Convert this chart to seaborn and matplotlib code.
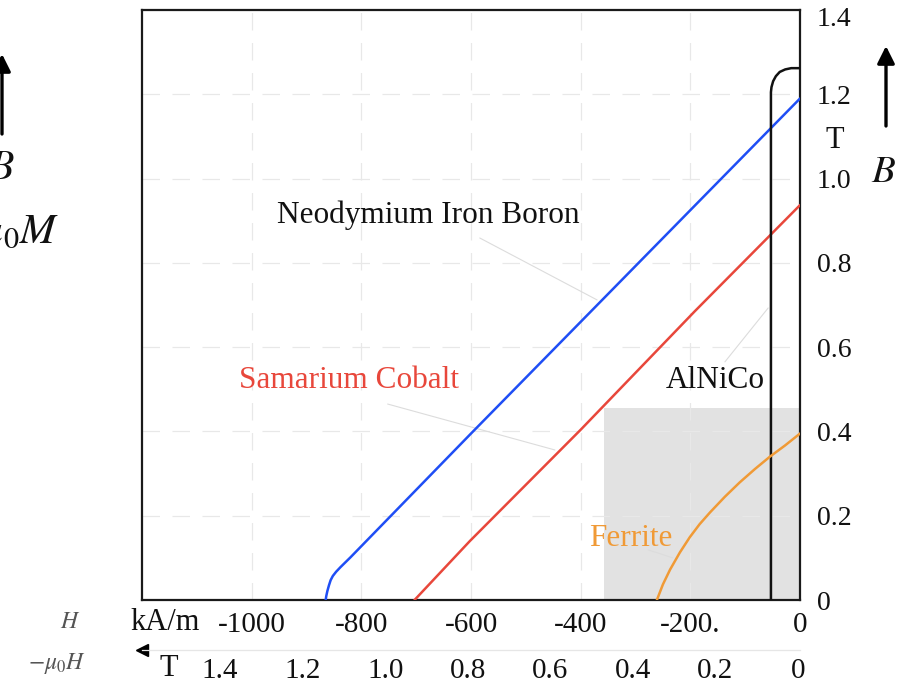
import matplotlib
matplotlib.use("Agg")
import matplotlib.pyplot as plt
import matplotlib.transforms as mtransforms
import pandas as pd
import seaborn as sns
from matplotlib.patches import Rectangle, FancyArrowPatch

# Second-quadrant demagnetisation curves: field strength H (kA/m), flux density B (T)
ndfeb_h = [0, -200, -400, -600, -820, -838, -846, -852, -856, -859, -862, -864, -865]
ndfeb_b = [1.19, 0.925, 0.66, 0.395, 0.101, 0.078, 0.067, 0.057, 0.047, 0.035, 0.021,
           0.009, 0.0]

smco_h = [0, -192, -400, -602, -703]
smco_b = [0.937, 0.685, 0.404, 0.140, 0.0]

alnico_h = [0, -16, -27, -37, -44, -49, -52, -53, -53]
alnico_b = [1.262, 1.262, 1.259, 1.253, 1.243, 1.231, 1.217, 1.205, 0.0]

ferrite_h = [0, -27, -55, -82, -110, -137, -164, -183, -201, -219, -237, -250, -261]
ferrite_b = [0.395, 0.367, 0.340, 0.311, 0.279, 0.245, 0.208, 0.180, 0.149, 0.113,
             0.072, 0.037, 0.0]

magnets = ["Neodymium Iron Boron", "Samarium Cobalt", "AlNiCo", "Ferrite"]
colors = ["#1f4ef5", "#e8473b", "#111111", "#f09a36"]

# shaded working region of ferrite magnets
region_h = -358
region_b = 0.456

h_ticks = [-1000, -800, -600, -400, -200, 0]
h_labels = ["-1000", "-800", "-600", "-400", "-200.", "0"]
b_ticks = [0, 0.2, 0.4, 0.6, 0.8, 1.0, 1.2, 1.4]
b_labels = ["0", "0.2", "0.4", "0.6", "0.8", "1.0", "1.2", "1.4"]
t_ticks = [1.4, 1.2, 1.0, 0.8, 0.6, 0.4, 0.2, 0]
t_labels = ["1.4", "1.2", "1.0", "0.8", "0.6", "0.4", "0.2", "0"]

sns.set_theme(style="white")
plt.rcParams["font.family"] = ["Liberation Serif", "DejaVu Serif"]
plt.rcParams["mathtext.fontset"] = "stix"

W, H = 905, 687
fig = plt.figure(figsize=(W / 100, H / 100), dpi=100)


def fx(x):
    return x / W


def fy(y):
    return 1 - y / H


ax = fig.add_axes([fx(142), fy(600), fx(800) - fx(142), fy(10) - fy(600)])

df = pd.concat([
    pd.DataFrame({"H": h, "B": b, "magnet": m})
    for h, b, m in zip([ndfeb_h, smco_h, alnico_h, ferrite_h],
                       [ndfeb_b, smco_b, alnico_b, ferrite_b], magnets)
], ignore_index=True)

ax.add_patch(Rectangle((region_h, 0), -region_h, region_b,
                       facecolor="#e2e2e2", edgecolor="none", zorder=0.4))

sns.lineplot(data=df, x="H", y="B", hue="magnet", palette=dict(zip(magnets, colors)),
             sort=False, estimator=None, lw=1.8, legend=False, ax=ax, zorder=3,
             solid_joinstyle="round", solid_capstyle="round")

ax.set_xlim(-1200, 0)
ax.set_ylim(0, 1.4)
ax.set_axisbelow(True)
ax.grid(True, color="#e8e8e8", lw=0.9, linestyle=(0, (14, 10)))
ax.set_xticks(h_ticks)
ax.set_xticklabels(h_labels)
ax.set_yticks(b_ticks)
ax.set_yticklabels(b_labels)
ax.yaxis.tick_right()
ax.tick_params(axis="x", length=0, pad=9, labelsize=21, labelcolor="#111111")
ax.tick_params(axis="y", length=0, pad=12, labelsize=20, labelcolor="#111111")
ax.set_xlabel("")
ax.set_ylabel("")
for s in ax.spines.values():
    s.set_visible(True)
    s.set_color("#1a1a1a")
    s.set_linewidth(1.6)

# keep the top value label just inside the frame
top_tick = ax.yaxis.get_major_ticks()[-1]
top_tick.label2.set_transform(top_tick.label2.get_transform()
                              + mtransforms.ScaledTranslation(0, -7 / 100, fig.dpi_scale_trans))

# curve labels with faint leader lines
leader = dict(color="#dcdcdc", lw=0.8)
ax.plot([-584, -370], [0.859, 0.712], **leader, zorder=1)
ax.plot([-752, -447], [0.465, 0.356], **leader, zorder=1)
ax.plot([-137, -58], [0.565, 0.693], **leader, zorder=1)
ax.plot([-277, -232], [0.119, 0.100], **leader, zorder=1)
ax.text(-677, 0.914, "Neodymium Iron Boron", color="#111111", fontsize=22.5,
        ha="center", va="center")
ax.text(-823, 0.522, "Samarium Cobalt", color=colors[1], fontsize=22.5,
        ha="center", va="center")
ax.text(-155, 0.522, "AlNiCo", color="#111111", fontsize=22.5,
        ha="center", va="center")
ax.text(-308, 0.147, "Ferrite", color=colors[3], fontsize=22.5,
        ha="center", va="center")

# secondary scale: -mu0 H in tesla
axt = fig.add_axes([fx(142), fy(650), fx(800) - fx(142), 0.0001])
axt.set_xlim(1.589, -0.005)
axt.set_xticks(t_ticks)
axt.set_xticklabels(t_labels)
axt.set_yticks([])
axt.set_facecolor("none")
for k in ["top", "left", "right"]:
    axt.spines[k].set_visible(False)
axt.spines["bottom"].set_color("#e6e6e6")
axt.spines["bottom"].set_linewidth(0.9)
axt.tick_params(axis="x", direction="inout", length=10, width=0.9, color="#dddddd",
                pad=1, labelsize=21, labelcolor="#111111")
axt.plot([0.0], [0.0], marker="<", color="black", markersize=8,
         transform=axt.transAxes, clip_on=False)

# axis captions and direction arrows
fig.text(fx(165), fy(623), "kA/m", fontsize=22, ha="center", va="center", color="#111111")
fig.text(fx(169), fy(668), "T", fontsize=22, ha="center", va="center", color="#111111")
fig.text(fx(80), fy(623), "$H$", fontsize=17, ha="right", va="center", color="#555555")
fig.text(fx(86), fy(663), r"$-\mu_0 H$", fontsize=17, ha="right", va="center",
         color="#555555")
fig.text(fx(835), fy(141), "T", fontsize=22, ha="center", va="center", color="#111111")
fig.text(fx(884), fy(172), "$B$", fontsize=28, ha="center", va="center", color="#111111")
fig.text(fx(15), fy(169), "$B$", fontsize=30, ha="right", va="center", color="#111111")
fig.text(fx(59), fy(243), r"$\mu_0 M$", fontsize=31, ha="right", va="baseline",
         color="#111111")

arrow = dict(arrowstyle="-|>", lw=2.4, color="black", mutation_scale=26,
             shrinkA=0, shrinkB=0)
fig.add_artist(FancyArrowPatch((fx(886), fy(126)), (fx(886), fy(46)),
                               transform=fig.transFigure, **arrow))
fig.add_artist(FancyArrowPatch((fx(2), fy(134)), (fx(2), fy(54)),
                               transform=fig.transFigure, **arrow))

fig.savefig("out.png", dpi=100)
